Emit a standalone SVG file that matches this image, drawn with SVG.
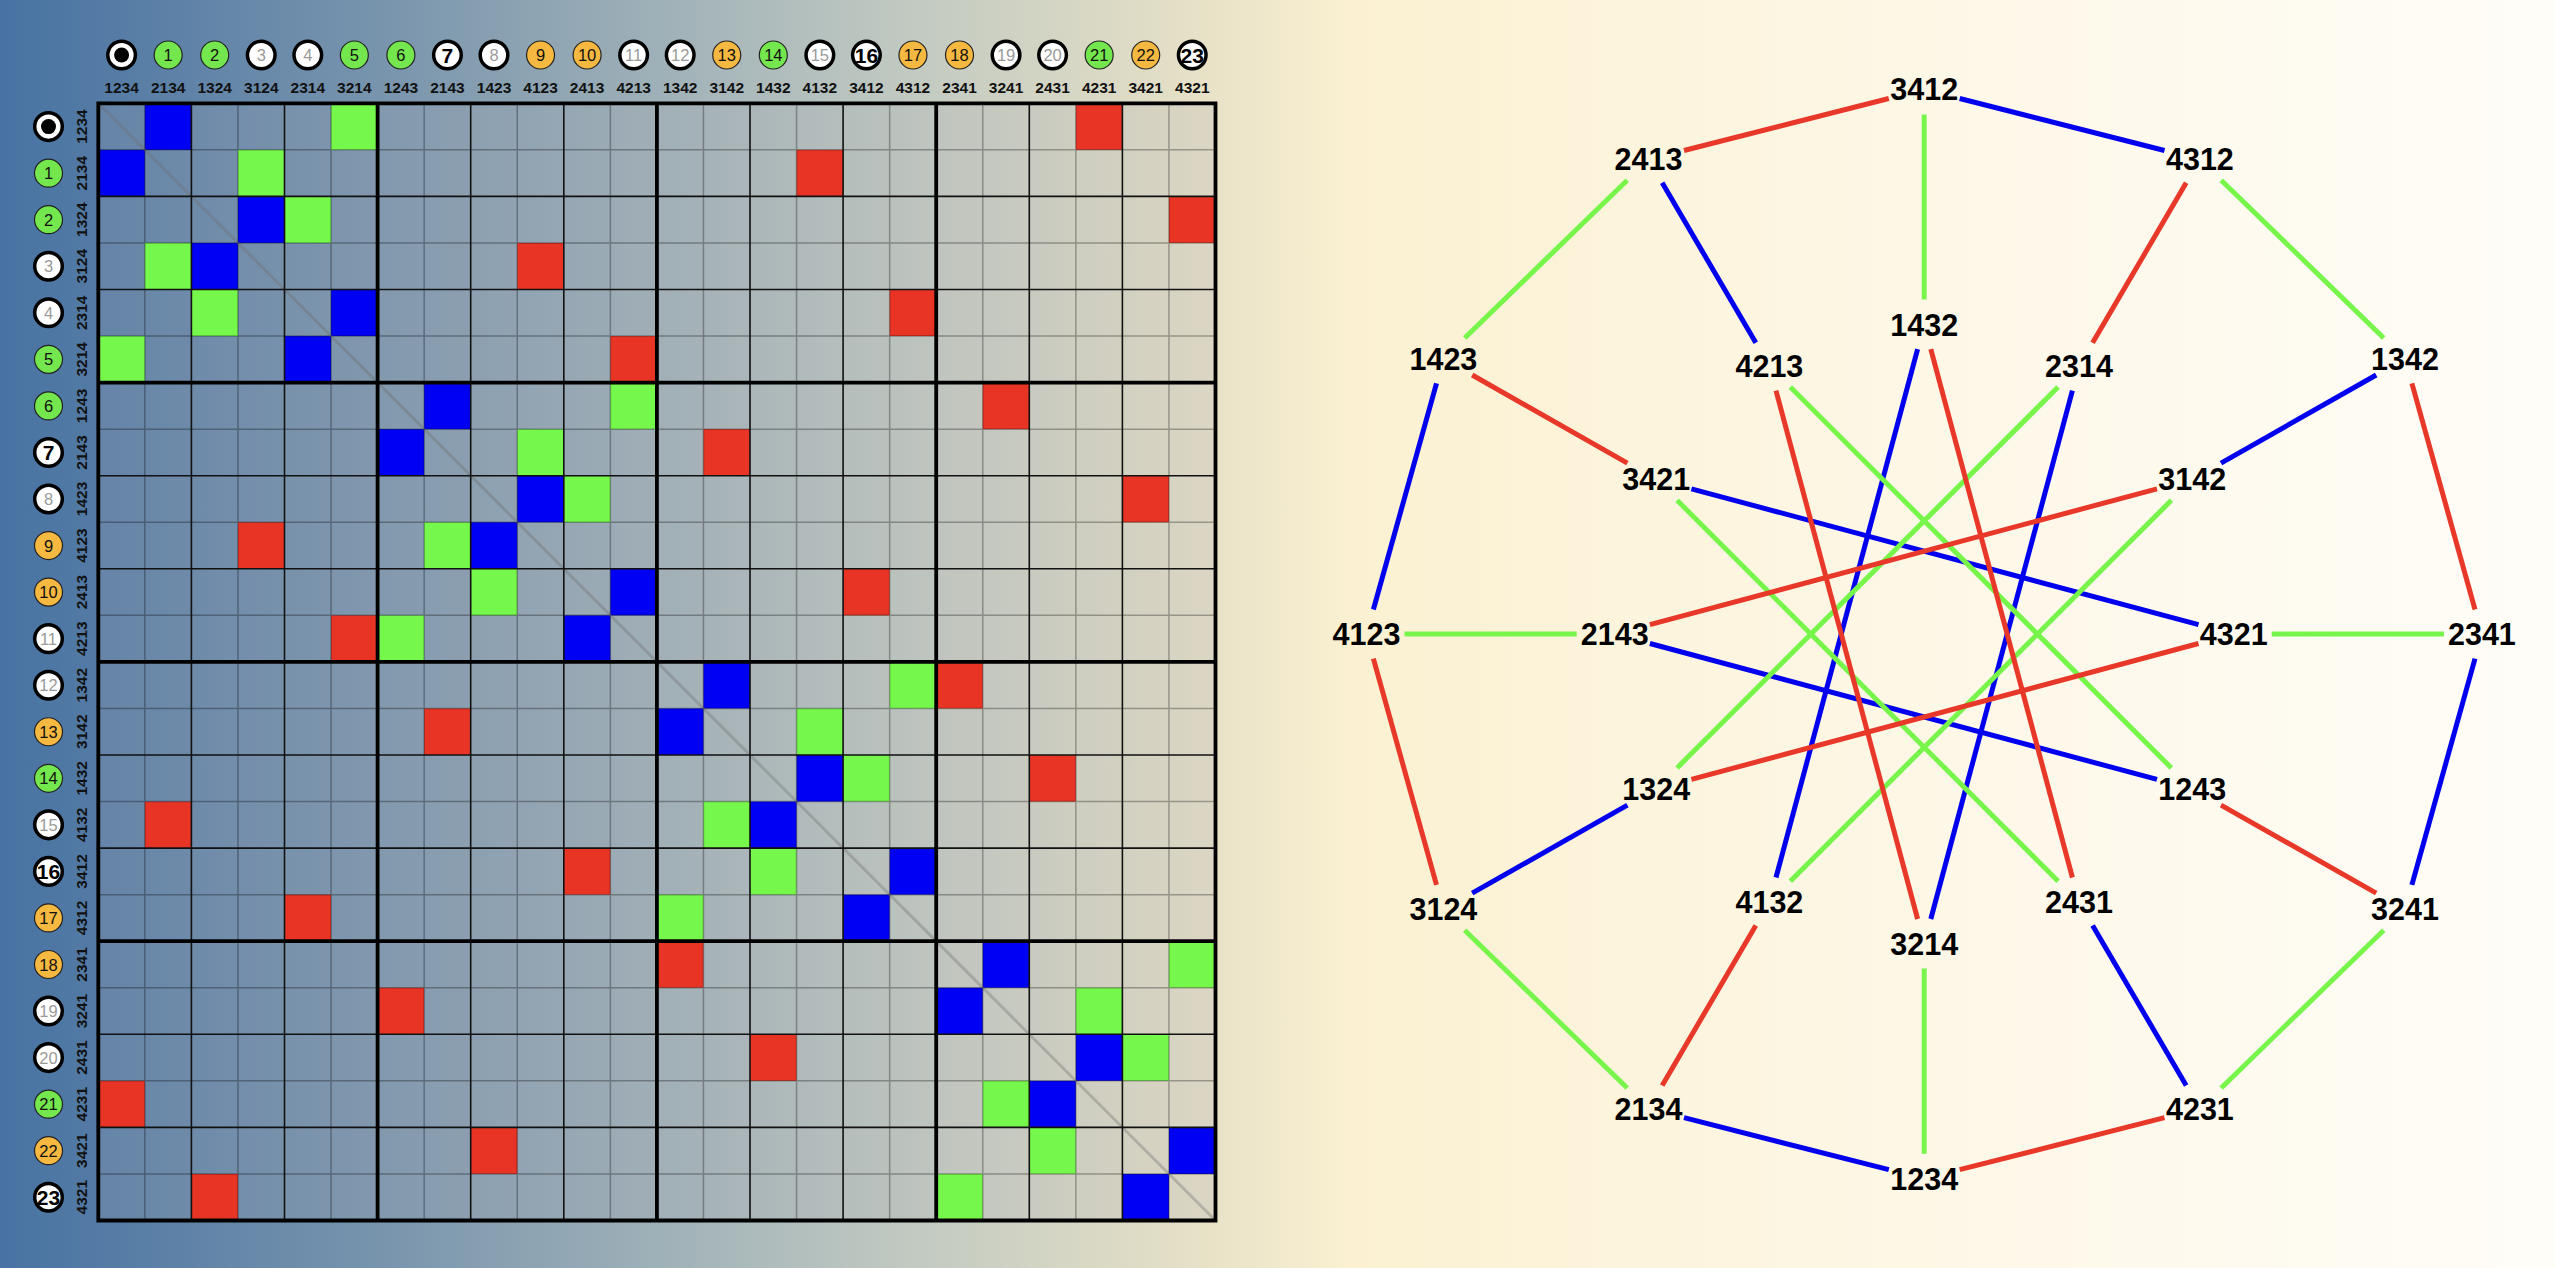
<svg xmlns="http://www.w3.org/2000/svg" xmlns:xlink="http://www.w3.org/1999/xlink" width="2555" height="1268" viewBox="0 0 2555 1268">
<defs>
<linearGradient id="bg" x1="0" y1="0" x2="2555" y2="0" gradientUnits="userSpaceOnUse">
<stop offset="0" stop-color="#4772a2"/>
<stop offset="0.16" stop-color="#7c97ae"/>
<stop offset="0.34" stop-color="#bcc6c0"/>
<stop offset="0.47" stop-color="#e7e1c7"/>
<stop offset="0.53" stop-color="#fbf1d2"/>
<stop offset="0.75" stop-color="#fdf7e6"/>
<stop offset="1" stop-color="#fffdf8"/>
</linearGradient>
<rect id="cell" width="46.55" height="46.55"/>
</defs>
<style>
.B{fill:#0000f2}.G{fill:#76f74c}.R{fill:#e83424}
.ov{fill:#a8aab4;fill-opacity:.2}
.dg{stroke:#6e6e6e;stroke-opacity:.35;stroke-width:3;fill:none}
.lg{stroke:#000;stroke-opacity:.3;stroke-width:1.5;fill:none}
.lk{stroke:#111;stroke-width:1.6;fill:none}
.lt{stroke:#000;stroke-width:3.8;fill:none;stroke-linecap:square}
.hl{font-family:"Liberation Sans",Arial,sans-serif;font-weight:bold;font-size:15.5px;text-anchor:middle;fill:#111}
.cn{font-family:"Liberation Sans",Arial,sans-serif;font-size:16.5px;text-anchor:middle;fill:#111}
.cg{fill:#74e64e;stroke:#222;stroke-width:1.2}
.co{fill:#f5b840;stroke:#222;stroke-width:1.2}
.cw{fill:#fff;stroke:#000;stroke-width:3.5}
.tg{fill:#9a9a9a}
.tb{font-weight:bold;font-size:21px;fill:#000}
.e{stroke-width:5;fill:none}
.eb{stroke:#0000ee}.eg{stroke:#77f54b}.er{stroke:#e8382a}
.nl{font-family:"Liberation Sans",Arial,sans-serif;font-weight:bold;font-size:30.5px;text-anchor:middle;fill:#000}
</style>
<rect x="0" y="0" width="2555" height="1268" fill="url(#bg)"/>

<g id="matrix" transform="translate(98.3,103.3)">
<rect class="ov" x="0" y="0" width="1117.2" height="1117.2"/>
<g id="cells-blue" class="B">
<use xlink:href="#cell" x="46.55" y="0"/><use xlink:href="#cell" x="0" y="46.55"/>
<use xlink:href="#cell" x="139.65" y="93.1"/><use xlink:href="#cell" x="93.1" y="139.65"/>
<use xlink:href="#cell" x="232.75" y="186.2"/><use xlink:href="#cell" x="186.2" y="232.75"/>
<use xlink:href="#cell" x="325.85" y="279.3"/><use xlink:href="#cell" x="279.3" y="325.85"/>
<use xlink:href="#cell" x="418.95" y="372.4"/><use xlink:href="#cell" x="372.4" y="418.95"/>
<use xlink:href="#cell" x="512.05" y="465.5"/><use xlink:href="#cell" x="465.5" y="512.05"/>
<use xlink:href="#cell" x="605.15" y="558.6"/><use xlink:href="#cell" x="558.6" y="605.15"/>
<use xlink:href="#cell" x="698.25" y="651.7"/><use xlink:href="#cell" x="651.7" y="698.25"/>
<use xlink:href="#cell" x="791.35" y="744.8"/><use xlink:href="#cell" x="744.8" y="791.35"/>
<use xlink:href="#cell" x="884.45" y="837.9"/><use xlink:href="#cell" x="837.9" y="884.45"/>
<use xlink:href="#cell" x="977.55" y="931"/><use xlink:href="#cell" x="931" y="977.55"/>
<use xlink:href="#cell" x="1070.65" y="1024.1"/><use xlink:href="#cell" x="1024.1" y="1070.65"/>
</g>
<g id="cells-green" class="G">
<use xlink:href="#cell" x="232.75" y="0"/><use xlink:href="#cell" x="139.65" y="46.55"/>
<use xlink:href="#cell" x="186.2" y="93.1"/><use xlink:href="#cell" x="46.55" y="139.65"/>
<use xlink:href="#cell" x="93.1" y="186.2"/><use xlink:href="#cell" x="0" y="232.75"/>
<use xlink:href="#cell" x="512.05" y="279.3"/><use xlink:href="#cell" x="418.95" y="325.85"/>
<use xlink:href="#cell" x="465.5" y="372.4"/><use xlink:href="#cell" x="325.85" y="418.95"/>
<use xlink:href="#cell" x="372.4" y="465.5"/><use xlink:href="#cell" x="279.3" y="512.05"/>
<use xlink:href="#cell" x="791.35" y="558.6"/><use xlink:href="#cell" x="698.25" y="605.15"/>
<use xlink:href="#cell" x="744.8" y="651.7"/><use xlink:href="#cell" x="605.15" y="698.25"/>
<use xlink:href="#cell" x="651.7" y="744.8"/><use xlink:href="#cell" x="558.6" y="791.35"/>
<use xlink:href="#cell" x="1070.65" y="837.9"/><use xlink:href="#cell" x="977.55" y="884.45"/>
<use xlink:href="#cell" x="1024.1" y="931"/><use xlink:href="#cell" x="884.45" y="977.55"/>
<use xlink:href="#cell" x="931" y="1024.1"/><use xlink:href="#cell" x="837.9" y="1070.65"/>
</g>
<g id="cells-red" class="R">
<use xlink:href="#cell" x="977.55" y="0"/><use xlink:href="#cell" x="698.25" y="46.55"/>
<use xlink:href="#cell" x="1070.65" y="93.1"/><use xlink:href="#cell" x="418.95" y="139.65"/>
<use xlink:href="#cell" x="791.35" y="186.2"/><use xlink:href="#cell" x="512.05" y="232.75"/>
<use xlink:href="#cell" x="884.45" y="279.3"/><use xlink:href="#cell" x="605.15" y="325.85"/>
<use xlink:href="#cell" x="1024.1" y="372.4"/><use xlink:href="#cell" x="139.65" y="418.95"/>
<use xlink:href="#cell" x="744.8" y="465.5"/><use xlink:href="#cell" x="232.75" y="512.05"/>
<use xlink:href="#cell" x="837.9" y="558.6"/><use xlink:href="#cell" x="325.85" y="605.15"/>
<use xlink:href="#cell" x="931" y="651.7"/><use xlink:href="#cell" x="46.55" y="698.25"/>
<use xlink:href="#cell" x="465.5" y="744.8"/><use xlink:href="#cell" x="186.2" y="791.35"/>
<use xlink:href="#cell" x="558.6" y="837.9"/><use xlink:href="#cell" x="279.3" y="884.45"/>
<use xlink:href="#cell" x="651.7" y="931"/><use xlink:href="#cell" x="0" y="977.55"/>
<use xlink:href="#cell" x="372.4" y="1024.1"/><use xlink:href="#cell" x="93.1" y="1070.65"/>
</g>
<path class="dg" d="M0 0L1117.2 1117.2"/>
<path class="lg" d="M46.55 0V1117.2M139.65 0V1117.2M232.75 0V1117.2M325.85 0V1117.2M418.95 0V1117.2M512.05 0V1117.2M605.15 0V1117.2M698.25 0V1117.2M791.35 0V1117.2M884.45 0V1117.2M977.55 0V1117.2M1070.65 0V1117.2M0 46.55H1117.2M0 139.65H1117.2M0 232.75H1117.2M0 325.85H1117.2M0 418.95H1117.2M0 512.05H1117.2M0 605.15H1117.2M0 698.25H1117.2M0 791.35H1117.2M0 884.45H1117.2M0 977.55H1117.2M0 1070.65H1117.2"/>
<path class="lk" d="M93.1 0V1117.2M186.2 0V1117.2M372.4 0V1117.2M465.5 0V1117.2M651.7 0V1117.2M744.8 0V1117.2M931 0V1117.2M1024.1 0V1117.2M0 93.1H1117.2M0 186.2H1117.2M0 372.4H1117.2M0 465.5H1117.2M0 651.7H1117.2M0 744.8H1117.2M0 931H1117.2M0 1024.1H1117.2"/>
<path class="lt" d="M0 0H1117.2V1117.2H0ZM279.3 0V1117.2M558.6 0V1117.2M837.9 0V1117.2M0 279.3H1117.2M0 558.6H1117.2M0 837.9H1117.2"/>
</g>

<g id="col-headers" transform="translate(121.6,0)">
<g id="h0"><circle class="cw" cx="0" cy="55" r="13.8"/><circle cx="0" cy="55" r="7.5" fill="#000"/><text class="hl" x="0" y="92.5">1234</text></g>
<g id="h1" transform="translate(46.55,0)"><circle class="cg" cx="0" cy="55" r="14"/><text class="cn" x="0" y="61">1</text><text class="hl" x="0" y="92.5">2134</text></g>
<g id="h2" transform="translate(93.1,0)"><circle class="cg" cx="0" cy="55" r="14"/><text class="cn" x="0" y="61">2</text><text class="hl" x="0" y="92.5">1324</text></g>
<g id="h3" transform="translate(139.65,0)"><circle class="cw" cx="0" cy="55" r="13.8"/><text class="cn tg" x="0" y="61">3</text><text class="hl" x="0" y="92.5">3124</text></g>
<g id="h4" transform="translate(186.2,0)"><circle class="cw" cx="0" cy="55" r="13.8"/><text class="cn tg" x="0" y="61">4</text><text class="hl" x="0" y="92.5">2314</text></g>
<g id="h5" transform="translate(232.75,0)"><circle class="cg" cx="0" cy="55" r="14"/><text class="cn" x="0" y="61">5</text><text class="hl" x="0" y="92.5">3214</text></g>
<g id="h6" transform="translate(279.3,0)"><circle class="cg" cx="0" cy="55" r="14"/><text class="cn" x="0" y="61">6</text><text class="hl" x="0" y="92.5">1243</text></g>
<g id="h7" transform="translate(325.85,0)"><circle class="cw" cx="0" cy="55" r="13.8"/><text class="cn tb" x="0" y="62.5">7</text><text class="hl" x="0" y="92.5">2143</text></g>
<g id="h8" transform="translate(372.4,0)"><circle class="cw" cx="0" cy="55" r="13.8"/><text class="cn tg" x="0" y="61">8</text><text class="hl" x="0" y="92.5">1423</text></g>
<g id="h9" transform="translate(418.95,0)"><circle class="co" cx="0" cy="55" r="14"/><text class="cn" x="0" y="61">9</text><text class="hl" x="0" y="92.5">4123</text></g>
<g id="h10" transform="translate(465.5,0)"><circle class="co" cx="0" cy="55" r="14"/><text class="cn" x="0" y="61">10</text><text class="hl" x="0" y="92.5">2413</text></g>
<g id="h11" transform="translate(512.05,0)"><circle class="cw" cx="0" cy="55" r="13.8"/><text class="cn tg" x="0" y="61">11</text><text class="hl" x="0" y="92.5">4213</text></g>
<g id="h12" transform="translate(558.6,0)"><circle class="cw" cx="0" cy="55" r="13.8"/><text class="cn tg" x="0" y="61">12</text><text class="hl" x="0" y="92.5">1342</text></g>
<g id="h13" transform="translate(605.15,0)"><circle class="co" cx="0" cy="55" r="14"/><text class="cn" x="0" y="61">13</text><text class="hl" x="0" y="92.5">3142</text></g>
<g id="h14" transform="translate(651.7,0)"><circle class="cg" cx="0" cy="55" r="14"/><text class="cn" x="0" y="61">14</text><text class="hl" x="0" y="92.5">1432</text></g>
<g id="h15" transform="translate(698.25,0)"><circle class="cw" cx="0" cy="55" r="13.8"/><text class="cn tg" x="0" y="61">15</text><text class="hl" x="0" y="92.5">4132</text></g>
<g id="h16" transform="translate(744.8,0)"><circle class="cw" cx="0" cy="55" r="13.8"/><text class="cn tb" x="0" y="62.5">16</text><text class="hl" x="0" y="92.5">3412</text></g>
<g id="h17" transform="translate(791.35,0)"><circle class="co" cx="0" cy="55" r="14"/><text class="cn" x="0" y="61">17</text><text class="hl" x="0" y="92.5">4312</text></g>
<g id="h18" transform="translate(837.9,0)"><circle class="co" cx="0" cy="55" r="14"/><text class="cn" x="0" y="61">18</text><text class="hl" x="0" y="92.5">2341</text></g>
<g id="h19" transform="translate(884.45,0)"><circle class="cw" cx="0" cy="55" r="13.8"/><text class="cn tg" x="0" y="61">19</text><text class="hl" x="0" y="92.5">3241</text></g>
<g id="h20" transform="translate(931,0)"><circle class="cw" cx="0" cy="55" r="13.8"/><text class="cn tg" x="0" y="61">20</text><text class="hl" x="0" y="92.5">2431</text></g>
<g id="h21" transform="translate(977.55,0)"><circle class="cg" cx="0" cy="55" r="14"/><text class="cn" x="0" y="61">21</text><text class="hl" x="0" y="92.5">4231</text></g>
<g id="h22" transform="translate(1024.1,0)"><circle class="co" cx="0" cy="55" r="14"/><text class="cn" x="0" y="61">22</text><text class="hl" x="0" y="92.5">3421</text></g>
<g id="h23" transform="translate(1070.65,0)"><circle class="cw" cx="0" cy="55" r="13.8"/><text class="cn tb" x="0" y="62.5">23</text><text class="hl" x="0" y="92.5">4321</text></g>
</g>

<g id="row-headers" transform="translate(0,126.6)">
<g id="r0"><circle class="cw" cx="48.5" cy="0" r="13.8"/><circle cx="48.5" cy="0" r="7.5" fill="#000"/><text class="hl" transform="translate(87.3,0) rotate(-90)">1234</text></g>
<g id="r1" transform="translate(0,46.55)"><circle class="cg" cx="48.5" cy="0" r="14"/><text class="cn" x="48.5" y="6">1</text><text class="hl" transform="translate(87.3,0) rotate(-90)">2134</text></g>
<g id="r2" transform="translate(0,93.1)"><circle class="cg" cx="48.5" cy="0" r="14"/><text class="cn" x="48.5" y="6">2</text><text class="hl" transform="translate(87.3,0) rotate(-90)">1324</text></g>
<g id="r3" transform="translate(0,139.65)"><circle class="cw" cx="48.5" cy="0" r="13.8"/><text class="cn tg" x="48.5" y="6">3</text><text class="hl" transform="translate(87.3,0) rotate(-90)">3124</text></g>
<g id="r4" transform="translate(0,186.2)"><circle class="cw" cx="48.5" cy="0" r="13.8"/><text class="cn tg" x="48.5" y="6">4</text><text class="hl" transform="translate(87.3,0) rotate(-90)">2314</text></g>
<g id="r5" transform="translate(0,232.75)"><circle class="cg" cx="48.5" cy="0" r="14"/><text class="cn" x="48.5" y="6">5</text><text class="hl" transform="translate(87.3,0) rotate(-90)">3214</text></g>
<g id="r6" transform="translate(0,279.3)"><circle class="cg" cx="48.5" cy="0" r="14"/><text class="cn" x="48.5" y="6">6</text><text class="hl" transform="translate(87.3,0) rotate(-90)">1243</text></g>
<g id="r7" transform="translate(0,325.85)"><circle class="cw" cx="48.5" cy="0" r="13.8"/><text class="cn tb" x="48.5" y="7.5">7</text><text class="hl" transform="translate(87.3,0) rotate(-90)">2143</text></g>
<g id="r8" transform="translate(0,372.4)"><circle class="cw" cx="48.5" cy="0" r="13.8"/><text class="cn tg" x="48.5" y="6">8</text><text class="hl" transform="translate(87.3,0) rotate(-90)">1423</text></g>
<g id="r9" transform="translate(0,418.95)"><circle class="co" cx="48.5" cy="0" r="14"/><text class="cn" x="48.5" y="6">9</text><text class="hl" transform="translate(87.3,0) rotate(-90)">4123</text></g>
<g id="r10" transform="translate(0,465.5)"><circle class="co" cx="48.5" cy="0" r="14"/><text class="cn" x="48.5" y="6">10</text><text class="hl" transform="translate(87.3,0) rotate(-90)">2413</text></g>
<g id="r11" transform="translate(0,512.05)"><circle class="cw" cx="48.5" cy="0" r="13.8"/><text class="cn tg" x="48.5" y="6">11</text><text class="hl" transform="translate(87.3,0) rotate(-90)">4213</text></g>
<g id="r12" transform="translate(0,558.6)"><circle class="cw" cx="48.5" cy="0" r="13.8"/><text class="cn tg" x="48.5" y="6">12</text><text class="hl" transform="translate(87.3,0) rotate(-90)">1342</text></g>
<g id="r13" transform="translate(0,605.15)"><circle class="co" cx="48.5" cy="0" r="14"/><text class="cn" x="48.5" y="6">13</text><text class="hl" transform="translate(87.3,0) rotate(-90)">3142</text></g>
<g id="r14" transform="translate(0,651.7)"><circle class="cg" cx="48.5" cy="0" r="14"/><text class="cn" x="48.5" y="6">14</text><text class="hl" transform="translate(87.3,0) rotate(-90)">1432</text></g>
<g id="r15" transform="translate(0,698.25)"><circle class="cw" cx="48.5" cy="0" r="13.8"/><text class="cn tg" x="48.5" y="6">15</text><text class="hl" transform="translate(87.3,0) rotate(-90)">4132</text></g>
<g id="r16" transform="translate(0,744.8)"><circle class="cw" cx="48.5" cy="0" r="13.8"/><text class="cn tb" x="48.5" y="7.5">16</text><text class="hl" transform="translate(87.3,0) rotate(-90)">3412</text></g>
<g id="r17" transform="translate(0,791.35)"><circle class="co" cx="48.5" cy="0" r="14"/><text class="cn" x="48.5" y="6">17</text><text class="hl" transform="translate(87.3,0) rotate(-90)">4312</text></g>
<g id="r18" transform="translate(0,837.9)"><circle class="co" cx="48.5" cy="0" r="14"/><text class="cn" x="48.5" y="6">18</text><text class="hl" transform="translate(87.3,0) rotate(-90)">2341</text></g>
<g id="r19" transform="translate(0,884.45)"><circle class="cw" cx="48.5" cy="0" r="13.8"/><text class="cn tg" x="48.5" y="6">19</text><text class="hl" transform="translate(87.3,0) rotate(-90)">3241</text></g>
<g id="r20" transform="translate(0,931)"><circle class="cw" cx="48.5" cy="0" r="13.8"/><text class="cn tg" x="48.5" y="6">20</text><text class="hl" transform="translate(87.3,0) rotate(-90)">2431</text></g>
<g id="r21" transform="translate(0,977.55)"><circle class="cg" cx="48.5" cy="0" r="14"/><text class="cn" x="48.5" y="6">21</text><text class="hl" transform="translate(87.3,0) rotate(-90)">4231</text></g>
<g id="r22" transform="translate(0,1024.1)"><circle class="co" cx="48.5" cy="0" r="14"/><text class="cn" x="48.5" y="6">22</text><text class="hl" transform="translate(87.3,0) rotate(-90)">3421</text></g>
<g id="r23" transform="translate(0,1070.65)"><circle class="cw" cx="48.5" cy="0" r="13.8"/><text class="cn tb" x="48.5" y="7.5">23</text><text class="hl" transform="translate(87.3,0) rotate(-90)">4321</text></g>
</g>

<g id="connectors" class="e">
<g class="eb">
<line x1="1959.7" y1="98.5" x2="2164.5" y2="150.5"/>
<line x1="2475.0" y1="658.7" x2="2411.9" y2="884.9"/>
<line x1="1888.8" y1="1169.7" x2="1684.0" y2="1117.7"/>
<line x1="1373.4" y1="609.5" x2="1436.5" y2="383.3"/>
<line x1="2376.2" y1="375.0" x2="2221.0" y2="463.1"/>
<line x1="2186.2" y1="1085.4" x2="2092.6" y2="925.4"/>
<line x1="1472.2" y1="893.2" x2="1627.4" y2="805.1"/>
<line x1="1662.2" y1="182.8" x2="1755.8" y2="342.8"/>
<line x1="1917.6" y1="349.2" x2="1776.0" y2="877.5"/>
<line x1="2072.4" y1="390.7" x2="1930.8" y2="919.0"/>
<line x1="1691.4" y1="488.8" x2="2198.5" y2="624.7"/>
<line x1="2157.0" y1="779.4" x2="1649.9" y2="643.5"/>
</g>
<g class="eg">
<line x1="2221.2" y1="180.2" x2="2383.7" y2="338.0"/>
<line x1="2383.7" y1="930.2" x2="2221.2" y2="1088.0"/>
<line x1="1627.2" y1="1088.0" x2="1464.7" y2="930.2"/>
<line x1="1464.7" y1="338.0" x2="1627.2" y2="180.2"/>
<line x1="1924.2" y1="114.5" x2="1924.2" y2="299.6"/>
<line x1="2443.9" y1="634.1" x2="2271.7" y2="634.1"/>
<line x1="1924.2" y1="1153.7" x2="1924.2" y2="968.6"/>
<line x1="1404.5" y1="634.1" x2="1576.7" y2="634.1"/>
<line x1="2058.1" y1="387.0" x2="1677.1" y2="767.9"/>
<line x1="1790.3" y1="387.0" x2="2171.3" y2="767.9"/>
<line x1="2171.3" y1="500.3" x2="1790.3" y2="881.2"/>
<line x1="1677.1" y1="500.3" x2="2058.1" y2="881.2"/>
</g>
<g class="er">
<line x1="2411.9" y1="383.3" x2="2475.0" y2="609.5"/>
<line x1="2164.5" y1="1117.7" x2="1959.7" y2="1169.7"/>
<line x1="1436.5" y1="884.9" x2="1373.4" y2="658.7"/>
<line x1="1684.0" y1="150.5" x2="1888.8" y2="98.5"/>
<line x1="2186.2" y1="182.8" x2="2092.6" y2="342.8"/>
<line x1="2376.2" y1="893.2" x2="2221.0" y2="805.1"/>
<line x1="1662.2" y1="1085.4" x2="1755.8" y2="925.4"/>
<line x1="1472.2" y1="375.0" x2="1627.4" y2="463.1"/>
<line x1="1930.8" y1="349.2" x2="2072.4" y2="877.5"/>
<line x1="1776.0" y1="390.7" x2="1917.6" y2="919.0"/>
<line x1="2157.0" y1="488.8" x2="1649.9" y2="624.7"/>
<line x1="1691.4" y1="779.4" x2="2198.5" y2="643.5"/>
</g>
</g>

<g id="n3412"><text class="nl" x="1924.2" y="100.4">3412</text></g>
<g id="n4312"><text class="nl" x="2199.9" y="170.4">4312</text></g>
<g id="n1342"><text class="nl" x="2405.0" y="369.6">1342</text></g>
<g id="n2341"><text class="nl" x="2481.9" y="645.0">2341</text></g>
<g id="n3241"><text class="nl" x="2405.0" y="920.4">3241</text></g>
<g id="n4231"><text class="nl" x="2199.9" y="1119.6">4231</text></g>
<g id="n1234"><text class="nl" x="1924.2" y="1189.6">1234</text></g>
<g id="n2134"><text class="nl" x="1648.5" y="1119.6">2134</text></g>
<g id="n3124"><text class="nl" x="1443.4" y="920.4">3124</text></g>
<g id="n4123"><text class="nl" x="1366.5" y="645.0">4123</text></g>
<g id="n1423"><text class="nl" x="1443.4" y="369.6">1423</text></g>
<g id="n2413"><text class="nl" x="1648.5" y="170.4">2413</text></g>
<g id="n1432"><text class="nl" x="1924.2" y="335.5">1432</text></g>
<g id="n2314"><text class="nl" x="2079.0" y="377.0">2314</text></g>
<g id="n3142"><text class="nl" x="2192.2" y="490.3">3142</text></g>
<g id="n4321"><text class="nl" x="2233.7" y="645.0">4321</text></g>
<g id="n1243"><text class="nl" x="2192.2" y="799.7">1243</text></g>
<g id="n2431"><text class="nl" x="2079.0" y="913.0">2431</text></g>
<g id="n3214"><text class="nl" x="1924.2" y="954.5">3214</text></g>
<g id="n4132"><text class="nl" x="1769.4" y="913.0">4132</text></g>
<g id="n1324"><text class="nl" x="1656.2" y="799.7">1324</text></g>
<g id="n2143"><text class="nl" x="1614.7" y="645.0">2143</text></g>
<g id="n3421"><text class="nl" x="1656.2" y="490.3">3421</text></g>
<g id="n4213"><text class="nl" x="1769.4" y="377.0">4213</text></g>
</svg>
